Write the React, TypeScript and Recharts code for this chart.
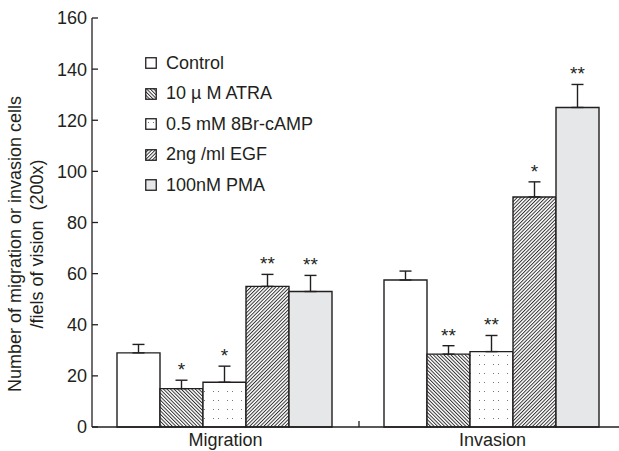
import React from 'react';
import { BarChart, Bar, XAxis, YAxis, ErrorBar, LabelList, Legend } from 'recharts';

const categories = ['Migration', 'Invasion'];
const seriesNames = ['Control', '10 \u00b5 M ATRA', '0.5 mM 8Br-cAMP', '2ng /ml EGF', '100nM PMA'];

const controlVals = [29, 57.5];
const atraVals = [15, 28.5];
const campVals = [17.5, 29.5];
const egfVals = [55, 90];
const pmaVals = [53, 125];

const controlErr = [3.3, 3.5];
const atraErr = [3.3, 3.3];
const campErr = [6.3, 6.3];
const egfErr = [4.7, 5.9];
const pmaErr = [6.3, 9];

const controlSig = ['', ''];
const atraSig = ['*', '**'];
const campSig = ['*', '**'];
const egfSig = ['**', '*'];
const pmaSig = ['**', '**'];

const yTicks = [0, 20, 40, 60, 80, 100, 120, 140, 160];

const INK = '#231f20';
const FONT = '"Liberation Sans", Arial, Helvetica, sans-serif';

const seriesVals = [controlVals, atraVals, campVals, egfVals, pmaVals];
const seriesErr = [controlErr, atraErr, campErr, egfErr, pmaErr];
const seriesSig = [controlSig, atraSig, campSig, egfSig, pmaSig];
const fills = ['#ffffff', 'url(#pAtra)', 'url(#pCamp)', 'url(#pEgf)', '#e6e7e8'];

const data = categories.map((name, i) => {
  const row: any = { name };
  seriesVals.forEach((vals, s) => {
    row['s' + s] = vals[i];
    row['e' + s] = [0, seriesErr[s][i]];
  });
  return row;
});

const PatternDefs = ({ prefix }: { prefix: string }) => (
  <defs>
    <pattern id={prefix + 'Atra'} patternUnits="userSpaceOnUse" width="2.5" height="2.5" patternTransform="rotate(-45)">
      <rect width="2.5" height="2.5" fill="#fff" />
      <line x1="0.5" y1="0" x2="0.5" y2="2.5" stroke={INK} strokeWidth="0.9" />
    </pattern>
    <pattern id={prefix + 'Egf'} patternUnits="userSpaceOnUse" width="2.5" height="2.5" patternTransform="rotate(45)">
      <rect width="2.5" height="2.5" fill="#fff" />
      <line x1="0.5" y1="0" x2="0.5" y2="2.5" stroke={INK} strokeWidth="0.9" />
    </pattern>
    <pattern id={prefix + 'Camp'} patternUnits="userSpaceOnUse" width="14" height="9">
      <rect width="14" height="9" fill="#fff" />
      <rect x="3" y="4" width="1" height="1" fill="#777" />
      <rect x="8" y="4" width="1" height="1" fill="#777" />
    </pattern>
  </defs>
);

const makeSig = (s: number) => (props: any) => {
  const vb = props.viewBox || {};
  const x = props.x ?? vb.x;
  const y = props.y ?? vb.y;
  const width = props.width ?? vb.width;
  const height = props.height ?? vb.height;
  const index = props.index;
  const sig = seriesSig[s][index];
  if (!sig) return null;
  const ppu = height / seriesVals[s][index];
  const capY = y - seriesErr[s][index] * ppu;
  return (
    <text x={x + width / 2} y={capY - 4} textAnchor="middle" fontSize={19} fontFamily={FONT} fill={INK}>
      {sig}
    </text>
  );
};

const XTick = (props: any) => {
  const { x, y, payload, index } = props;
  const half = payload && typeof payload.offset === 'number' && payload.offset > 0 ? payload.offset : 133.5;
  return (
    <g>
      <text x={x} y={y + 19} textAnchor="middle" fontSize={18} fontFamily={FONT} fill={INK}>
        {payload.value}
      </text>
      {index > 0 ? <line x1={x - half} x2={x - half} y1={y} y2={y - 6} stroke={INK} strokeWidth={1.3} /> : null}
    </g>
  );
};

const YLabel = () => {
  const cy = 244;
  return (
    <g fontFamily={FONT} fontSize={18} fill={INK}>
      <text x={21} y={cy} textAnchor="middle" transform={`rotate(-90, 21, ${cy})`}>
        Number of migration or invasion cells
      </text>
      <text x={43} y={cy} textAnchor="middle" transform={`rotate(-90, 43, ${cy})`}>
        {'/fiels of vision \u00a0(200x)'}
      </text>
    </g>
  );
};

const LegendContent = () => (
  <div style={{ fontFamily: FONT, fontSize: 18, color: INK }}>
    <svg width="0" height="0" style={{ position: 'absolute' }}>
      <PatternDefs prefix="lg" />
    </svg>
    {seriesNames.map((n, i) => (
      <div key={n} style={{ display: 'flex', alignItems: 'center', height: 30.5, whiteSpace: 'nowrap' }}>
        <svg width={12} height={12} style={{ marginRight: 9 }}>
          <rect x={0.75} y={0.75} width={10.5} height={10.5} fill={fills[i].replace('#p', '#lg')} stroke={INK} strokeWidth={1.3} />
        </svg>
        <span>{n}</span>
      </div>
    ))}
  </div>
);

export default function App() {
  return (
    <div style={{ position: 'absolute', left: 0, top: 0, width: 619, height: 451, overflow: 'hidden', background: '#fff' }}>
      <BarChart
        width={627}
        height={451}
        data={data}
        margin={{ top: 18, right: 1, bottom: 0, left: 0 }}
        barCategoryGap={25}
        barGap={0}
      >
        <PatternDefs prefix="p" />
        <XAxis
          dataKey="name"
          height={24}
          tickLine={false}
          tickSize={0}
          tickMargin={0}
          axisLine={{ stroke: INK, strokeWidth: 1.3 }}
          tick={<XTick />}
          interval={0}
        />
        <YAxis
          width={92}
          domain={[0, 160]}
          ticks={yTicks}
          interval={0}
          tickSize={-6}
          tickMargin={11}
          axisLine={{ stroke: INK, strokeWidth: 1.3 }}
          tickLine={{ stroke: INK, strokeWidth: 1.3 }}
          tick={{ fontSize: 18, fill: INK, fontFamily: FONT }}
          label={<YLabel />}
        />
        <Legend
          layout="horizontal"
          verticalAlign="middle"
          align="center"
          content={<LegendContent />}
          wrapperStyle={{ position: 'absolute', left: 145, top: 48, width: 'auto' }}
        />
        {seriesNames.map((n, s) => (
          <Bar key={n} dataKey={'s' + s} name={n} fill={fills[s]} stroke={INK} strokeWidth={1.4} isAnimationActive={false}>
            <ErrorBar dataKey={'e' + s} width={6} stroke={INK} strokeWidth={1.4} direction="y" />
            <LabelList dataKey={'s' + s} content={makeSig(s)} />
          </Bar>
        ))}
      </BarChart>
    </div>
  );
}
